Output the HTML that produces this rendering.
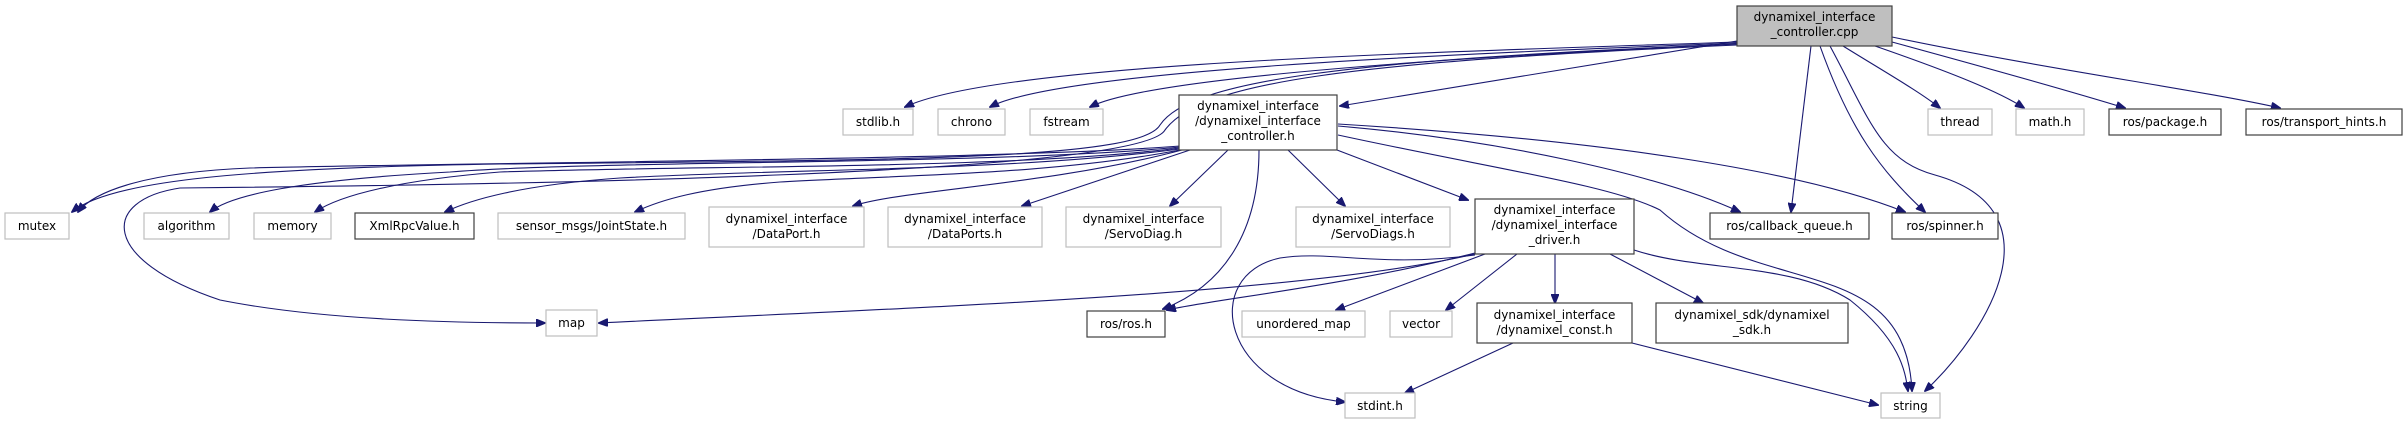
<!DOCTYPE html>
<html><head><meta charset="utf-8"><style>
html,body{margin:0;padding:0;background:#fff;}
svg{display:block;}
text{font-family:"DejaVu Sans","Liberation Sans",sans-serif;font-size:12px;fill:#000;}
.g{fill:#fff;stroke:#bfbfbf;stroke-width:1.2;}
.d{fill:#fff;stroke:#404040;stroke-width:1.2;}
.e{fill:none;stroke:#191970;stroke-width:1.1;}
</style></head><body>
<svg width="2407" height="424" viewBox="0 0 2407 424" xmlns="http://www.w3.org/2000/svg">
<defs><marker id="a" markerWidth="10" markerHeight="8" refX="9" refY="4" orient="auto" markerUnits="userSpaceOnUse"><path d="M0,0 L10,4 L0,8 z" fill="#191970" stroke="#191970"/></marker></defs>

<!-- edges from cpp -->
<g class="e" marker-end="url(#a)">
<path d="M1737,42 C1450,52 1000,62 905,107"/>
<path d="M1737,43 C1450,54 1060,70 990,107"/>
<path d="M1737,44 C1480,56 1150,76 1090,107"/>
<path d="M1737,41 L1340,106"/>
<path d="M1737,44 C1350,60 1190,80 1160,125 C1140,160 900,160 500,164 C250,168 110,180 72,212"/>
<path d="M1737,45 C1350,62 1200,82 1165,130 C1140,175 500,185 180,188 C100,200 100,260 220,300 C320,320 450,323 545,323"/>
<path d="M1843,46 C1885,72 1920,92 1940,108"/>
<path d="M1875,46 C1950,72 2000,92 2024,108"/>
<path d="M1892,42 C1980,66 2060,88 2125,108"/>
<path d="M1892,37 C2050,70 2200,90 2280,108"/>
<path d="M1811,46 L1791,212"/>
<path d="M1820,46 C1850,130 1880,170 1925,212"/>
<path d="M1830,46 C1870,120 1880,160 1935,175 C2060,210 1990,330 1925,391"/>
</g>

<!-- edges from controller.h -->
<g class="e" marker-end="url(#a)">
<path d="M1180,146 C1000,160 500,162 250,168 C150,172 95,190 78,212"/>
<path d="M1180,147 C1000,165 600,160 450,172 C300,180 230,195 210,212"/>
<path d="M1180,148 C1000,170 700,165 500,172 C400,180 340,195 315,212"/>
<path d="M1180,149 C1000,172 800,168 620,178 C520,185 470,200 445,212"/>
<path d="M1180,150 C1050,175 900,175 780,182 C700,188 660,200 635,212"/>
<path d="M1182,150 C1050,185 900,190 853,206"/>
<path d="M1190,150 L1022,206"/>
<path d="M1228,150 L1170,206"/>
<path d="M1288,150 L1345,206"/>
<path d="M1337,150 L1468,200"/>
<path d="M1259,150 C1259,230 1225,285 1163,309"/>
<path d="M1338,126 C1500,140 1660,175 1740,212"/>
<path d="M1338,124 C1600,140 1800,170 1905,212"/>
<path d="M1338,135 C1500,170 1610,185 1660,210 C1760,300 1905,250 1912,391"/>
</g>

<!-- edges from driver.h -->
<g class="e" marker-end="url(#a)">
<path d="M1475,254 C1300,295 900,308 599,323"/>
<path d="M1475,253 C1350,285 1210,300 1167,310"/>
<path d="M1475,255 C1380,268 1330,250 1280,258 C1200,275 1220,390 1345,402"/>
<path d="M1485,254 L1336,310"/>
<path d="M1517,254 L1446,310"/>
<path d="M1555,254 L1555,303"/>
<path d="M1610,254 L1703,303"/>
<path d="M1634,250 C1700,272 1790,262 1850,300 C1900,340 1905,370 1908,391"/>
<path d="M1513,343 L1405,393"/>
<path d="M1632,343 L1878,405"/>
</g>

<!-- nodes -->
<rect class="d" x="1737" y="6" width="155" height="40" style="fill:#bfbfbf"/>
<text x="1814.5" y="21" text-anchor="middle">dynamixel_interface</text>
<text x="1814.5" y="36" text-anchor="middle">_controller.cpp</text>

<rect class="g" x="843" y="109" width="70" height="26"/><text x="878" y="126" text-anchor="middle">stdlib.h</text>
<rect class="g" x="938" y="109" width="67" height="26"/><text x="971.5" y="126" text-anchor="middle">chrono</text>
<rect class="g" x="1030" y="109" width="73" height="26"/><text x="1066.5" y="126" text-anchor="middle">fstream</text>

<rect class="d" x="1179" y="95" width="158" height="55"/>
<text x="1258" y="110" text-anchor="middle">dynamixel_interface</text>
<text x="1258" y="125" text-anchor="middle">/dynamixel_interface</text>
<text x="1258" y="140" text-anchor="middle">_controller.h</text>

<rect class="g" x="1928" y="109" width="64" height="26"/><text x="1960" y="126" text-anchor="middle">thread</text>
<rect class="g" x="2016" y="109" width="68" height="26"/><text x="2050" y="126" text-anchor="middle">math.h</text>
<rect class="d" x="2109" y="109" width="112" height="26"/><text x="2165" y="126" text-anchor="middle">ros/package.h</text>
<rect class="d" x="2246" y="109" width="156" height="26"/><text x="2324" y="126" text-anchor="middle">ros/transport_hints.h</text>

<rect class="g" x="5" y="213" width="64" height="26"/><text x="37" y="230" text-anchor="middle">mutex</text>
<rect class="g" x="144" y="213" width="85" height="26"/><text x="186.5" y="230" text-anchor="middle">algorithm</text>
<rect class="g" x="254" y="213" width="77" height="26"/><text x="292.5" y="230" text-anchor="middle">memory</text>
<rect class="d" x="355" y="213" width="119" height="26"/><text x="414.5" y="230" text-anchor="middle">XmlRpcValue.h</text>
<rect class="g" x="498" y="213" width="187" height="26"/><text x="591.5" y="230" text-anchor="middle">sensor_msgs/JointState.h</text>

<rect class="g" x="709" y="207" width="155" height="40"/>
<text x="786.5" y="223" text-anchor="middle">dynamixel_interface</text><text x="786.5" y="238" text-anchor="middle">/DataPort.h</text>
<rect class="g" x="888" y="207" width="154" height="40"/>
<text x="965" y="223" text-anchor="middle">dynamixel_interface</text><text x="965" y="238" text-anchor="middle">/DataPorts.h</text>
<rect class="g" x="1066" y="207" width="155" height="40"/>
<text x="1143.5" y="223" text-anchor="middle">dynamixel_interface</text><text x="1143.5" y="238" text-anchor="middle">/ServoDiag.h</text>
<rect class="g" x="1296" y="207" width="154" height="40"/>
<text x="1373" y="223" text-anchor="middle">dynamixel_interface</text><text x="1373" y="238" text-anchor="middle">/ServoDiags.h</text>

<rect class="d" x="1475" y="199" width="159" height="55"/>
<text x="1554.5" y="214" text-anchor="middle">dynamixel_interface</text>
<text x="1554.5" y="229" text-anchor="middle">/dynamixel_interface</text>
<text x="1554.5" y="244" text-anchor="middle">_driver.h</text>

<rect class="d" x="1710" y="213" width="159" height="26"/><text x="1789.5" y="230" text-anchor="middle">ros/callback_queue.h</text>
<rect class="d" x="1892" y="213" width="106" height="26"/><text x="1945" y="230" text-anchor="middle">ros/spinner.h</text>

<rect class="g" x="546" y="310" width="51" height="26"/><text x="571.5" y="327" text-anchor="middle">map</text>
<rect class="d" x="1087" y="311" width="78" height="26"/><text x="1126" y="328" text-anchor="middle">ros/ros.h</text>
<rect class="g" x="1242" y="311" width="123" height="26"/><text x="1303.5" y="328" text-anchor="middle">unordered_map</text>
<rect class="g" x="1390" y="311" width="62" height="26"/><text x="1421" y="328" text-anchor="middle">vector</text>

<rect class="d" x="1477" y="303" width="155" height="40"/>
<text x="1554.5" y="319" text-anchor="middle">dynamixel_interface</text><text x="1554.5" y="334" text-anchor="middle">/dynamixel_const.h</text>
<rect class="d" x="1656" y="303" width="192" height="40"/>
<text x="1752" y="319" text-anchor="middle">dynamixel_sdk/dynamixel</text><text x="1752" y="334" text-anchor="middle">_sdk.h</text>

<rect class="g" x="1345" y="393" width="70" height="25"/><text x="1380" y="410" text-anchor="middle">stdint.h</text>
<rect class="g" x="1881" y="393" width="59" height="25"/><text x="1910.5" y="410" text-anchor="middle">string</text>
</svg>
</body></html>
